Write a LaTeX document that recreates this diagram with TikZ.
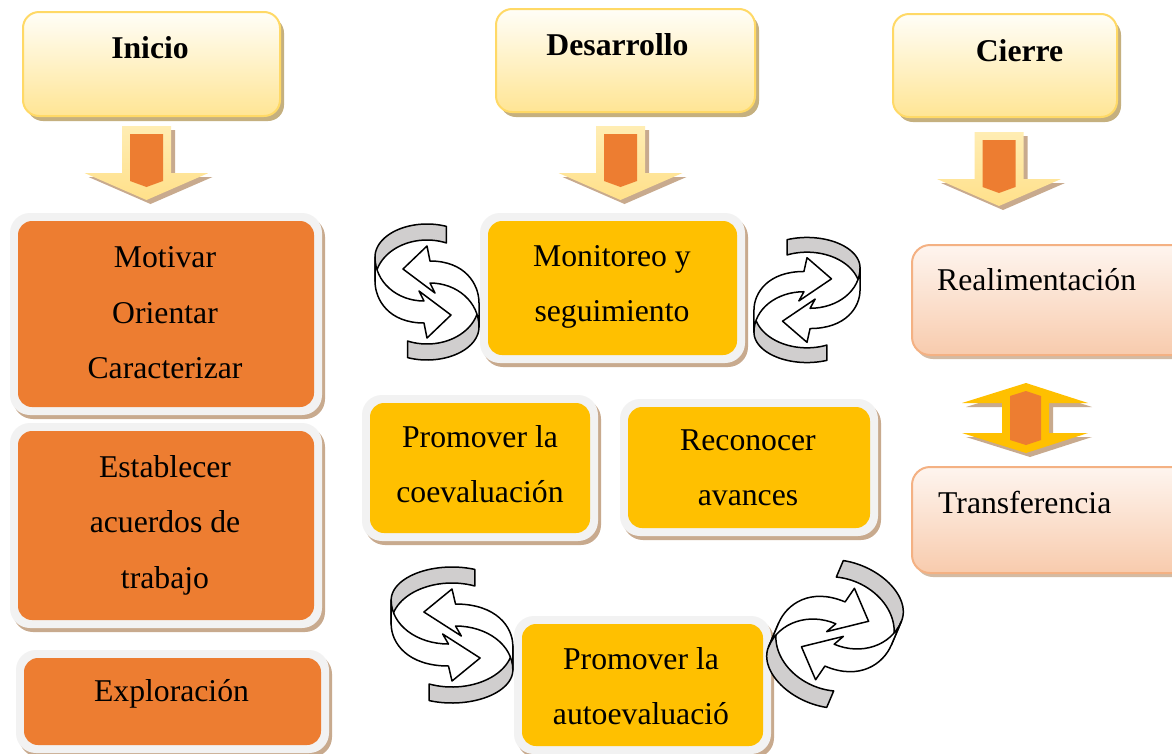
\documentclass[tikz,border=0pt]{standalone}
\usepackage{fontspec}
\setmainfont{Liberation Serif}
\definecolor{orng}{HTML}{ED7D31}
\definecolor{yel}{HTML}{FFC000}
\definecolor{framegray}{HTML}{F2F2F2}
\definecolor{shad}{HTML}{C8AA8E}
\definecolor{hdrtop}{HTML}{FFFEF8}
\definecolor{hdrbot}{HTML}{FFE594}
\definecolor{hdrline}{HTML}{FFD966}
\definecolor{hdrshad}{HTML}{C5B07F}
\definecolor{pinktop}{HTML}{FEF5EF}
\definecolor{pinkbot}{HTML}{F8CBAD}
\definecolor{pinkline}{HTML}{F4B183}
\definecolor{arrtop}{HTML}{FFEDB3}
\definecolor{arrbot}{HTML}{FFE08A}
\definecolor{ribgray}{HTML}{D0CECE}
\tikzset{
  txt/.style={font=\fontsize{31.7}{55.5}\selectfont, align=center, inner sep=0pt},
  hdrtxt/.style={font=\fontsize{31.7}{38}\selectfont\bfseries, inner sep=0pt, anchor=base},
  ribbon/.style={draw=black, line width=1.5pt, line join=round},
}
\newcommand\framedbox[5]{%
  \fill[shad, rounded corners=20pt] (#1+3,-#2-4) rectangle (#3+3,-#4-4);
  \fill[framegray, rounded corners=20pt] (#1,-#2) rectangle (#3,-#4);
  \fill[#5, rounded corners=14pt] (#1+8,-#2-8) rectangle (#3-8,-#4+8);}
\newcommand\hdrbox[4]{%
  \fill[hdrshad, rounded corners=16pt] (#1+4,-#2-5) rectangle (#3+4,-#4-5);
  \shade[top color=hdrtop, bottom color=hdrbot, draw=hdrline, line width=2pt, rounded corners=16pt] (#1,-#2) rectangle (#3,-#4);}
\newcommand\pinkbox[4]{%
  \fill[shad!80, rounded corners=18pt] (#1+3,-#2-4) rectangle (#3+3,-#4-4);
  \shade[top color=pinktop, bottom color=pinkbot, draw=pinkline, line width=2pt, rounded corners=18pt] (#1,-#2) rectangle (#3,-#4);}
\newcommand\dnarrow[2]{%
  \begin{scope}[shift={(#1,-#2)}]
    \fill[shad] (-20.5,-4) -- (28.5,-4) -- (28.5,-51) -- (66,-51) -- (4,-78) -- (-58,-51) -- (-20.5,-51) -- cycle;
    \shade[top color=arrtop, bottom color=arrbot] (-24.5,0) -- (24.5,0) -- (24.5,-47) -- (62,-47) -- (0,-74) -- (-62,-47) -- (-24.5,-47) -- cycle;
    \fill[orng] (-16.5,-8) -- (16.5,-8) -- (16.5,-55) -- (0,-61) -- (-16.5,-55) -- cycle;
  \end{scope}}
\newcommand\cycarrow[1]{%
  \begin{scope}[#1]
    \foreach \rr in {0,180}{
      \begin{scope}[rotate=\rr]
        \draw[ribbon, fill=ribgray] plot[domain=68:180, samples=30] ({52*cos(\x)},{35+33*sin(\x)})
          -- plot[domain=180:68, samples=30] ({52*cos(\x)},{11+41*sin(\x)}) -- cycle;
      \end{scope}}
    \foreach \rr in {0,180}{
      \begin{scope}[rotate=\rr]
        \draw[ribbon, fill=white] (-52,35) .. controls (-52,10) and (-30,-9) .. (-3,-9)
          -- (-8,1) -- (24,-23) -- (0,-46) -- (-3,-31)
          .. controls (-38,-31) and (-52,-8) .. (-52,11) -- cycle;
      \end{scope}}
  \end{scope}}
\begin{document}
\begin{tikzpicture}[x=1pt,y=1pt]
\clip (0,0) rectangle (1172,-753);
\fill[white] (0,0) rectangle (1172,-753);
% headers
\hdrbox{23}{12}{280}{116}
\hdrbox{496}{9}{755}{112}
\hdrbox{893}{14}{1117}{117}
\node[hdrtxt] (inicio) at (150,-58) {Inicio};
\node[hdrtxt] (desarrollo) at (617.5,-55) {Desarrollo};
\node[hdrtxt] (cierre) at (1019.5,-61) {Cierre};
% down arrows
\dnarrow{146.5}{126}
\dnarrow{620.5}{126}
\dnarrow{999}{132}
% left column
\framedbox{10}{213}{322}{415}{orng}
\framedbox{10}{423}{322}{628}{orng}
\framedbox{16}{650}{329}{753}{orng}
\node[txt] (motivar) at (165,-313) {Motivar\\Orientar\\Caracterizar};
\node[txt] (acuerdos) at (165,-525) {Establecer\\acuerdos de\\trabajo};
\node[txt, anchor=base] (exploracion) at (171.5,-701) {Exploración};
% middle column
\framedbox{480}{213}{745}{363}{yel}
\framedbox{362}{395}{598}{541}{yel}
\framedbox{620}{399}{878}{536}{yel}
\framedbox{514}{616}{771}{754}{yel}
\node[txt] (monitoreo) at (612,-287) {Monitoreo y\\seguimiento};
\node[txt] (coeval) at (480,-464) {Promover la\\coevaluación};
\node[txt] (reconocer) at (748,-468) {Reconocer\\avances};
\node[txt] (autoeval) at (641,-686) {Promover la\\autoevaluació};
% circular arrows
\cycarrow{shift={(427,-292)}}
\cycarrow{shift={(807,-300)}, xscale=-1.02, yscale=0.92}
\cycarrow{shift={(452,-635)}, xscale=1.17}
\cycarrow{shift={(835,-634)}, rotate=-23, xscale=-1, scale=1.08}
% right column
\pinkbox{912}{245}{1195}{355}
\pinkbox{912}{467}{1195}{573}
\node[txt, anchor=base west] (realim) at (937,-290) {Realimentación};
\node[txt, anchor=base west] (transf) at (938,-513) {Transferencia};
% double arrow
\fill[shad] (1030,-387) -- (1092,-407) -- (1053,-407) -- (1053,-437) -- (1092,-437) -- (1030,-457) -- (966,-437) -- (1006,-437) -- (1006,-407) -- (966,-407) -- cycle;
\fill[yel] (1026,-383) -- (1088,-403) -- (1049,-403) -- (1049,-433) -- (1088,-433) -- (1026,-453) -- (962,-433) -- (1002,-433) -- (1002,-403) -- (962,-403) -- cycle;
\fill[orng] (1026,-391) -- (1041,-396) -- (1041,-440) -- (1026,-445) -- (1010,-440) -- (1010,-396) -- cycle;
\end{tikzpicture}
\end{document}
